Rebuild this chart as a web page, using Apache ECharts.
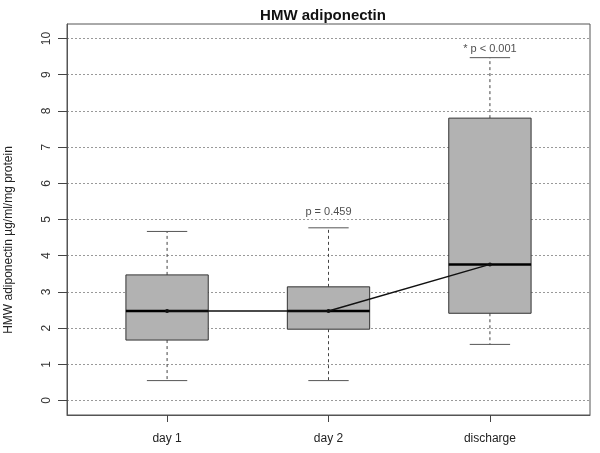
<!DOCTYPE html>
<html><head><meta charset="utf-8">
<script src="https://cdn.jsdelivr.net/npm/echarts@6/dist/echarts.min.js"></script>
<style>html,body{margin:0;padding:0;background:#fff}#c{width:600px;height:453px}</style>
</head><body><div id="c"></div>
<script>
const categories = ['day 1', 'day 2', 'discharge'];
// [min, Q1, median, Q3, max]
const boxStats = [
  [0.55, 1.67, 2.47, 3.47, 4.67],
  [0.55, 1.97, 2.47, 3.14, 4.77],
  [1.55, 2.41, 3.76, 7.80, 9.47]
];
const medianLine = [2.47, 2.47, 3.76];
const yTicks = [0, 1, 2, 3, 4, 5, 6, 7, 8, 9, 10];
const annotations = [
  { cat: 2, y: 5.22, text: 'p = 0.459' },
  { cat: 3, y: 9.71, text: '* p < 0.001' }
];

const FONT = 'Liberation Sans, Arial, sans-serif';
const chart = echarts.init(document.getElementById('c'));

const boxData = boxStats.map((s, i) => [i + 1].concat(s));
const BOXW = 0.51, CAPW = 0.25;

function renderBox(params, api) {
  const x = api.value(0);
  const mn = api.value(1), q1 = api.value(2), md = api.value(3), q3 = api.value(4), mx = api.value(5);
  const pL = api.coord([x - BOXW / 2, q3]);
  const pR = api.coord([x + BOXW / 2, q1]);
  const c = api.coord([x, md]);
  const cL = api.coord([x - CAPW / 2, mx]);
  const cR = api.coord([x + CAPW / 2, mn]);
  const yMax = api.coord([x, mx])[1], yMin = api.coord([x, mn])[1];
  const yQ1 = pR[1], yQ3 = pL[1];
  return {
    type: 'group',
    children: [
      { type: 'line', shape: { x1: c[0], y1: yQ3, x2: c[0], y2: yMax }, style: { stroke: '#444', lineWidth: 1, lineDash: [3, 3] } },
      { type: 'line', shape: { x1: c[0], y1: yQ1, x2: c[0], y2: yMin }, style: { stroke: '#444', lineWidth: 1, lineDash: [3, 3] } },
      { type: 'line', shape: { x1: cL[0], y1: yMax, x2: cR[0], y2: yMax }, style: { stroke: '#555', lineWidth: 1 } },
      { type: 'line', shape: { x1: cL[0], y1: yMin, x2: cR[0], y2: yMin }, style: { stroke: '#555', lineWidth: 1 } },
      { type: 'rect', shape: { x: pL[0], y: yQ3, width: pR[0] - pL[0], height: yQ1 - yQ3 }, style: { fill: '#b2b2b2', stroke: '#333', lineWidth: 1 } },
      { type: 'line', shape: { x1: pL[0], y1: c[1], x2: pR[0], y2: c[1] }, style: { stroke: '#000', lineWidth: 2.5 } }
    ]
  };
}

chart.setOption({
  animation: false,
  backgroundColor: '#fff',
  title: {
    text: 'HMW adiponectin', left: 318, top: 3, textAlign: 'center',
    textStyle: { fontFamily: FONT, fontSize: 15, fontWeight: 'bold', color: '#111' }
  },
  graphic: [{
    type: 'text', x: 3, y: 240, rotation: Math.PI / 2,
    style: { text: 'HMW adiponectin \u00b5g/ml/mg protein', fontFamily: FONT, fontSize: 12, fill: '#222', align: 'center', verticalAlign: 'top' }
  }],
  grid: { left: 67, right: 10, top: 24, bottom: 38, show: true, borderColor: '#555', borderWidth: 1, backgroundColor: 'transparent' },
  xAxis: {
    type: 'value', min: 0.38, max: 3.62,
    axisLine: { show: true, onZero: false, lineStyle: { color: '#555' } },
    axisTick: { show: true, length: 7, lineStyle: { color: '#444' }, customValues: [1, 2, 3] },
    axisLabel: { customValues: [1, 2, 3], formatter: v => categories[Math.round(v) - 1] || '', fontFamily: FONT, fontSize: 12, color: '#222', margin: 18 },
    splitLine: { show: false }
  },
  yAxis: {
    type: 'value', min: -0.4, max: 10.4,
    axisLine: { show: true, onZero: false, lineStyle: { color: '#555' } },
    axisTick: { show: true, length: 9, lineStyle: { color: '#444' }, customValues: yTicks },
    axisLabel: { customValues: yTicks, rotate: 90, fontFamily: FONT, fontSize: 12, color: '#333', margin: 14 },
    splitLine: { show: true, lineStyle: { color: '#999', type: [2, 2], width: 1 } }
  },
  series: [
    { type: 'custom', renderItem: renderBox, data: boxData, z: 2 },
    {
      type: 'line', data: medianLine.map((v, i) => [i + 1, v]), z: 3,
      symbol: 'circle', symbolSize: 4, itemStyle: { color: '#111' },
      lineStyle: { color: '#111', width: 1.5 }
    },
    {
      type: 'scatter', symbolSize: 0, z: 4,
      data: annotations.map(a => ({ value: [a.cat, a.y], name: a.text })),
      label: { show: true, position: 'inside', formatter: p => p.name, fontFamily: FONT, fontSize: 11, color: '#222' }
    }
  ]
});
</script></body></html>
